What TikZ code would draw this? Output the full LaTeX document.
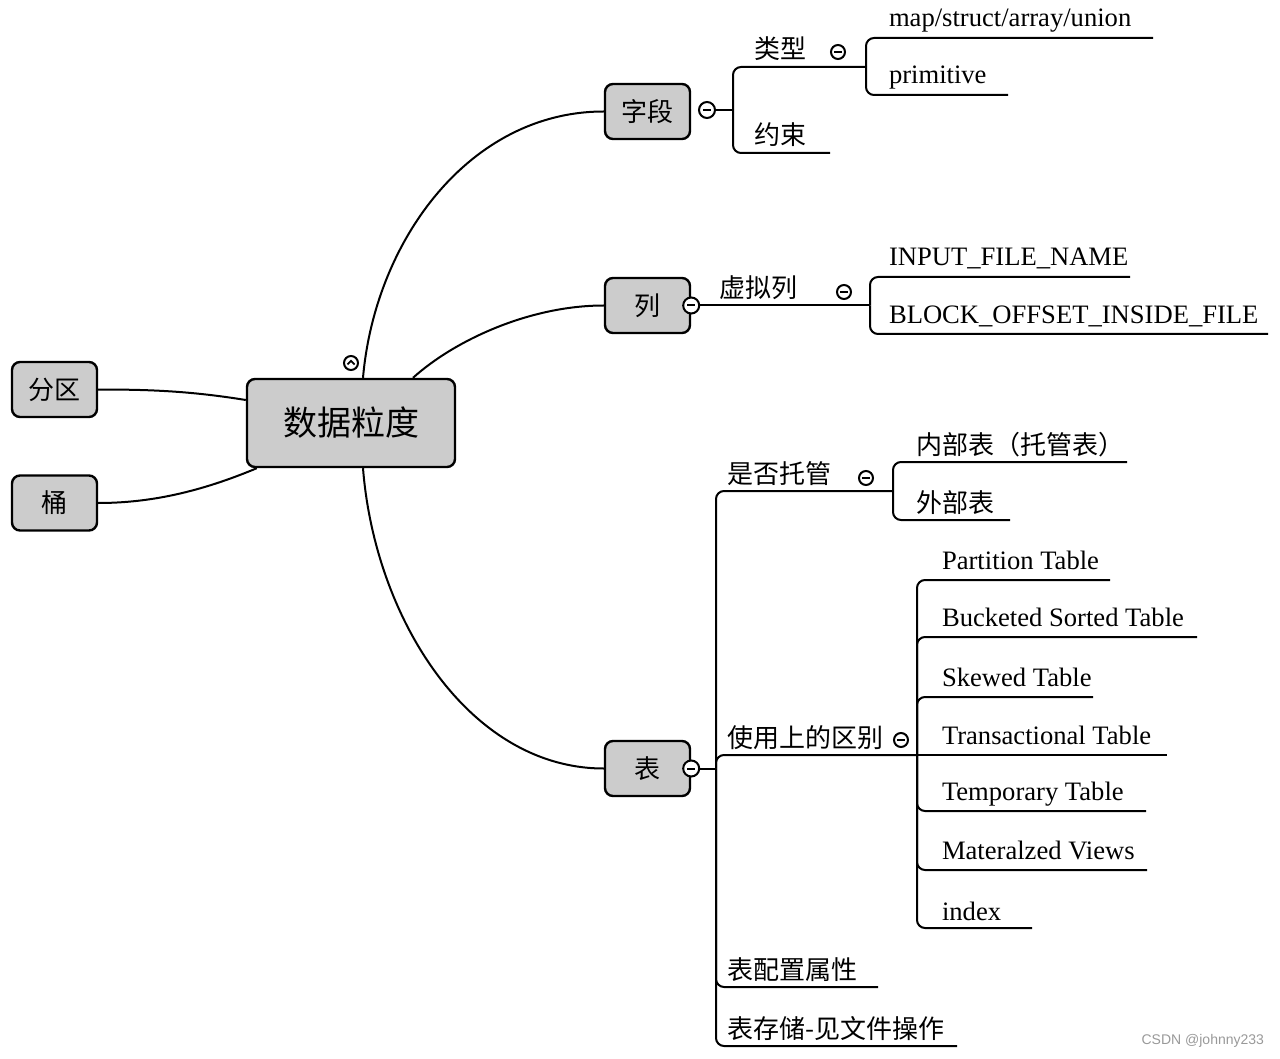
\documentclass[tikz,border=0pt]{standalone}
\usepackage{fontspec}
\setmainfont{Liberation Serif}
\newfontfamily\cjk{Noto Sans CJK SC}
\newfontfamily\wmfont{Liberation Sans}
\definecolor{boxgray}{RGB}{204,204,204}
\begin{document}
\begin{tikzpicture}[x=0.5pt,y=-0.5pt, line width=1pt,
  box/.style={draw, line width=1.2pt, fill=boxgray, rounded corners=4pt, minimum width=42.5pt, minimum height=27.5pt, inner sep=0pt, font=\cjk\fontsize{13}{15}\selectfont},
  mainbox/.style={box, minimum width=104pt, minimum height=44pt, font=\cjk\fontsize{17}{20}\selectfont},
  zh/.style={anchor=base west, inner sep=0pt, font=\cjk\fontsize{13}{15}\selectfont},
  en/.style={anchor=base west, inner sep=0pt, font=\fontsize{13.3}{15}\selectfont},
  fold/.style={circle, draw, fill=white, line width=1pt, minimum size=7pt, inner sep=0pt,
    path picture={\draw[line width=1pt] ([xshift=-1.9pt]path picture bounding box.center) -- ([xshift=1.9pt]path picture bounding box.center);}},
  boxfold/.style={fold, minimum size=8pt},
  foldup/.style={circle, draw, fill=white, line width=1pt, minimum size=7pt, inner sep=0pt,
    path picture={\draw[line width=0.9pt] ([xshift=-1.8pt,yshift=-0.7pt]path picture bounding box.center) -- ([yshift=1.1pt]path picture bounding box.center) -- ([xshift=1.8pt,yshift=-0.7pt]path picture bounding box.center);}},
  branch/.style={rounded corners=4pt},
]
\useasboundingbox (0,0) rectangle (1280,1059);

% boxes
\node[mainbox] (c) at (351,423) {数据粒度};
\node[box] (fq) at (54.5,389.5) {分区};
\node[box] (tong) at (54.5,503) {桶};
\node[box] (zd) at (647.5,111.5) {字段};
\node[box] (lie) at (647.5,305.5) {列};
\node[box] (biao) at (647.5,768.5) {表};

% main connectors
\draw ([xshift=6pt]c.north) .. controls (375,240) and (470,111.5) .. (zd.west);
\draw ([xshift=31pt]c.north) .. controls (455,340) and (530,305.5) .. (lie.west);
\draw ([xshift=6pt]c.south) .. controls (375,620) and (470,768.5) .. (biao.west);
\draw ([yshift=11.5pt]c.west) .. controls (190,391) and (150,389.5) .. (fq.east);
\draw ([xshift=5.5pt]c.south west) .. controls (200,492) and (150,503) .. (tong.east);
\node[foldup] (up) at (351,363) {};

% 字段 branch
\node[boxfold] (f-zd) at (707,110) {};
\coordinate (j-zd) at (733,110);
\draw (f-zd.east) -- (j-zd);
\coordinate (j-lx) at (866,67);
\draw[branch] (j-zd) |- (j-lx);
\node[zh] (lx) at (753,59) {类型};
\node[fold] (f-lx) at (838,52) {};
\coordinate (e-map) at (1153,38);
\coordinate (e-prim) at (1008,95);
\draw[branch] (j-lx) |- (e-map);
\draw[branch] (j-lx) |- (e-prim);
\node[en] (map) at (888,27) {map/struct/array/union};
\node[en] (prim) at (888,84) {primitive};
\coordinate (e-ys) at (830,153);
\draw[branch] (j-zd) |- (e-ys);
\node[zh] (ys) at (753,145) {约束};

% 列 branch
\node[boxfold] (f-lie) at (lie.east) {};
\coordinate (j-xn) at (870,305.5);
\draw (f-lie.east) -- (j-xn);
\node[zh] (xn) at (718,298) {虚拟列};
\node[fold] (f-xn) at (844,292) {};
\coordinate (e-in) at (1130,277);
\coordinate (e-bl) at (1268,334);
\draw[branch] (j-xn) |- (e-in);
\draw[branch] (j-xn) |- (e-bl);
\node[en] (in) at (888,266) {INPUT\_FILE\_NAME};
\node[en] (bl) at (888,323) {BLOCK\_OFFSET\_INSIDE\_FILE};

% 表 branch
\node[boxfold] (f-biao) at (biao.east) {};
\coordinate (j-b) at (716,768.5);
\draw (f-biao.east) -- (j-b);

\coordinate (j-tg) at (893,491);
\draw[branch] (j-b) |- (j-tg);
\node[zh] (tg) at (726,483) {是否托管};
\node[fold] (f-tg) at (866,478) {};
\coordinate (e-nb) at (1127,462);
\coordinate (e-wb) at (1010,520);
\draw[branch] (j-tg) |- (e-nb);
\draw[branch] (j-tg) |- (e-wb);
\node[zh] (nb) at (915,454) {内部表（托管表）};
\node[zh] (wb) at (915,512) {外部表};

\coordinate (j-sy) at (917,755);
\draw[branch] (j-b) |- (j-sy);
\node[zh] (sy) at (726,747) {使用上的区别};
\node[fold] (f-sy) at (901,740) {};
\coordinate (e-pt) at (1110,580);
\coordinate (e-bs) at (1197,637);
\coordinate (e-sk) at (1093,697);
\coordinate (e-tr) at (1167,755);
\coordinate (e-tp) at (1146,811);
\coordinate (e-mv) at (1147,870);
\coordinate (e-ix) at (1032,928);
\draw[branch] (j-sy) |- (e-pt);
\draw[branch] (j-sy) |- (e-bs);
\draw[branch] (j-sy) |- (e-sk);
\draw (j-sy) -- (e-tr);
\draw[branch] (j-sy) |- (e-tp);
\draw[branch] (j-sy) |- (e-mv);
\draw[branch] (j-sy) |- (e-ix);
\node[en] (pt) at (941,569) {Partition Table};
\node[en] (bs) at (941,626) {Bucketed Sorted Table};
\node[en] (sk) at (941,686) {Skewed Table};
\node[en] (tr) at (941,744) {Transactional Table};
\node[en] (tp) at (941,800) {Temporary Table};
\node[en] (mv) at (941,859) {Materalzed Views};
\node[en] (ix) at (941,920) {index};

\coordinate (e-pz) at (878,987);
\draw[branch] (j-b) |- (e-pz);
\node[zh] (pz) at (726,979) {表配置属性};
\coordinate (e-cc) at (957,1046);
\draw[branch] (j-b) |- (e-cc);
\node[zh] (cc) at (726,1038) {表存储-见文件操作};

\node[anchor=east, inner sep=0pt, font=\wmfont\fontsize{7}{8}\selectfont, text=black!40] (wm) at (1265,1041) {CSDN @johnny233};
\end{tikzpicture}
\end{document}
